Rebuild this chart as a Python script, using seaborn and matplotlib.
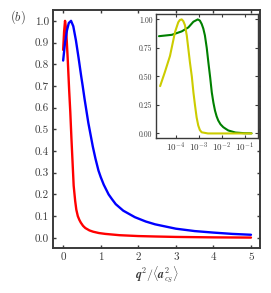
import numpy as np
import pandas as pd
import matplotlib
matplotlib.use("Agg")
import matplotlib.pyplot as plt
import seaborn as sns
from matplotlib.ticker import LogLocator, LogFormatterMathtext, NullLocator

# ---- main panel data ----
blue_x = [0, 0.05, 0.10, 0.15, 0.21, 0.27, 0.34, 0.41, 0.48, 0.52, 0.57, 0.62, 0.67, 0.73,
          0.79, 0.86, 0.94, 1.0, 1.08, 1.21, 1.3, 1.4, 1.6, 1.91, 2.2, 2.45, 3.0, 3.5,
          4.0, 4.5, 5.0]
blue_y = [0.817, 0.90, 0.955, 0.99, 1.0, 0.975, 0.91, 0.83, 0.745, 0.70, 0.64, 0.585, 0.53, 0.475,
          0.42, 0.365, 0.31, 0.28, 0.245, 0.20, 0.178, 0.155, 0.125, 0.095, 0.075, 0.062, 0.042, 0.031,
          0.024, 0.018, 0.014]
red_x = [0, 0.025, 0.05, 0.08, 0.12, 0.16, 0.19, 0.22, 0.25, 0.28, 0.32, 0.35, 0.39, 0.43,
         0.47, 0.53, 0.59, 0.7, 0.8, 0.95, 1.12, 1.5, 2.0, 2.45, 3.0, 4.0, 5.0]
red_y = [0.866, 0.95, 1.0, 0.96, 0.83, 0.68, 0.58, 0.46, 0.35, 0.24, 0.17, 0.13, 0.10, 0.083,
         0.07, 0.055, 0.045, 0.034, 0.028, 0.022, 0.018, 0.012, 0.008, 0.006, 0.004, 0.002, 0.001]

# ---- inset data (log10 of x) ----
green_logx = [-4.73, -4.17, -3.74, -3.45, -3.23, -3.04, -2.95, -2.87, -2.80, -2.73, -2.65,
              -2.58, -2.50, -2.43, -2.36, -2.29, -2.22, -2.15, -2.05, -1.93, -1.82, -1.71,
              -1.4, -1.0, -0.7]
green_y = [0.853, 0.865, 0.895, 0.93, 0.98, 1.0, 0.99, 0.96, 0.92, 0.86, 0.75,
           0.625, 0.49, 0.36, 0.27, 0.20, 0.15, 0.114, 0.08, 0.055, 0.04, 0.026,
           0.008, 0.002, 0.001]
yellow_logx = [-4.68, -4.47, -4.25, -4.03, -3.89, -3.82, -3.74, -3.67, -3.60, -3.52, -3.45,
               -3.38, -3.30, -3.23, -3.16, -3.09, -3.02, -2.95, -2.87, -2.6, -2.0, -1.0, -0.7]
yellow_y = [0.415, 0.54, 0.68, 0.89, 0.975, 0.995, 1.0, 0.985, 0.95, 0.86, 0.74,
            0.62, 0.50, 0.36, 0.245, 0.14, 0.07, 0.03, 0.01, 0.0, 0.0, 0.0, 0.0]

main_yticks = [0.0, 0.1, 0.2, 0.3, 0.4, 0.5, 0.6, 0.7, 0.8, 0.9, 1.0]
main_xticks = [0, 1, 2, 3, 4, 5]
inset_yticks = [0.0, 0.25, 0.5, 0.75, 1.0]

sns.set_theme(style="ticks")
plt.rcParams.update({
    "font.family": "serif",
    "font.serif": ["cmr10", "DejaVu Serif"],
    "mathtext.fontset": "cm",
    "axes.formatter.use_mathtext": True,
    "axes.unicode_minus": False,
    "xtick.direction": "in",
    "ytick.direction": "in",
    "xtick.top": True,
    "ytick.right": True,
})

dark = "#3a3a3a"
fig = plt.figure(figsize=(2.71, 2.93), dpi=100)
ax = fig.add_axes([0.1956, 0.1536, 0.9594 - 0.1956, 0.9659 - 0.1536])

df_b = pd.DataFrame({"x": blue_x, "y": blue_y})
df_r = pd.DataFrame({"x": red_x, "y": red_y})
sns.lineplot(data=df_r, x="x", y="y", ax=ax, color="#ff0000", lw=1.7, zorder=3)
sns.lineplot(data=df_b, x="x", y="y", ax=ax, color="#0000ff", lw=1.7, zorder=3)
ax.set_xlim(-0.27, 5.24)
ax.set_ylim(-0.047, 1.05)
ax.set_xticks(main_xticks)
ax.set_yticks(main_yticks)
ax.set_yticklabels([f"{v:.1f}" for v in main_yticks])
ax.set_xticklabels([str(v) for v in main_xticks])
ax.set_ylabel("")
ax.set_xlabel(r"$\mathbfit{q}^2/\langle\mathbfit{a}_{c_S}^2\rangle$", fontsize=8.5,
              color=dark, labelpad=2)
ax.tick_params(labelsize=8, colors=dark, length=2.5, width=1.0, pad=3)
for s in ax.spines.values():
    s.set_linewidth(1.4)
    s.set_color(dark)
fig.text(18 / 271, 1 - 17 / 293, r"$(b)$", fontsize=9, ha="center", va="center", color=dark)

# inset
axi = fig.add_axes([0.5756, 0.529, 0.951 - 0.5756, 0.952 - 0.529])
df_g = pd.DataFrame({"x": np.power(10.0, green_logx), "y": green_y})
df_y = pd.DataFrame({"x": np.power(10.0, yellow_logx), "y": yellow_y})
sns.lineplot(data=df_g, x="x", y="y", ax=axi, color="#008000", lw=1.5)
sns.lineplot(data=df_y, x="x", y="y", ax=axi, color="#cccc00", lw=1.5)
axi.set_xscale("log")
axi.set_xlim(10 ** -4.86, 10 ** -0.43)
axi.set_ylim(-0.04, 1.047)
axi.xaxis.set_major_locator(LogLocator(base=10, numticks=10))
axi.xaxis.set_major_formatter(LogFormatterMathtext())
axi.xaxis.set_minor_locator(NullLocator())
axi.set_yticks(inset_yticks)
axi.set_yticklabels([f"{v:.2f}" for v in inset_yticks])
axi.set_xlabel("")
axi.set_ylabel("")
axi.tick_params(axis="y", labelsize=5.5, colors=dark, length=2, width=0.8, pad=2.5)
axi.tick_params(axis="x", labelsize=6.5, colors=dark, length=2, width=0.8, pad=2)
for s in axi.spines.values():
    s.set_linewidth(1.0)
    s.set_color(dark)

fig.savefig("out.png", dpi=100)
